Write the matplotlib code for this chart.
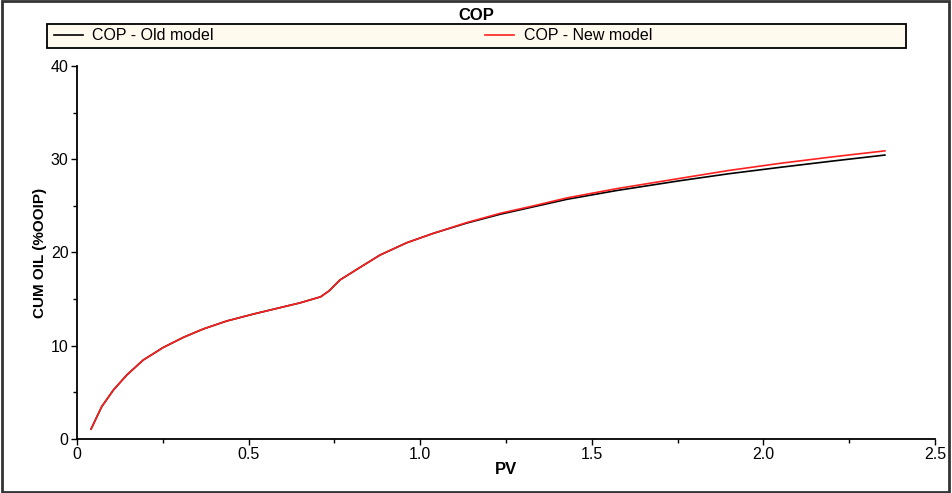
import matplotlib.pyplot as plt
import numpy as np
from matplotlib.patches import Rectangle
from matplotlib.ticker import MultipleLocator

plt.rcParams['font.family'] = ['Liberation Sans', 'DejaVu Sans']

# PV vs cumulative oil (%OOIP)
pv_new = [0.041, 0.072, 0.106, 0.145, 0.193, 0.252, 0.310, 0.368, 0.436, 0.514,
          0.582, 0.650, 0.710, 0.735, 0.766, 0.825, 0.883, 0.961, 1.038, 1.135,
          1.233, 1.330, 1.427, 1.573, 1.757, 1.900, 2.048, 2.200, 2.354]
cop_new = [1.07, 3.47, 5.25, 6.86, 8.47, 9.83, 10.9, 11.8, 12.65, 13.4,
           14.0, 14.6, 15.25, 15.9, 17.05, 18.41, 19.73, 21.05, 22.05, 23.2,
           24.2, 25.0, 25.85, 26.85, 27.95, 28.8, 29.56, 30.25, 30.9]

pv_old = pv_new
cop_old = [1.07, 3.47, 5.25, 6.86, 8.47, 9.83, 10.9, 11.8, 12.65, 13.4,
           14.0, 14.6, 15.25, 15.9, 17.05, 18.41, 19.73, 21.05, 22.05, 23.15,
           24.1, 24.9, 25.7, 26.65, 27.7, 28.45, 29.13, 29.8, 30.45]

fig = plt.figure(figsize=(9.52, 4.93), dpi=100)
ax = fig.add_axes([77/952, 1-439/493, (935-77)/952, (439-66)/493])

ax.plot(pv_old, cop_old, color='black', lw=1.2, label='COP - Old model')
ax.plot(pv_new, cop_new, color='#ff2020', lw=1.2, label='COP - New model')

ax.set_xlim(0, 2.5)
ax.set_ylim(0, 40)
ax.xaxis.set_minor_locator(MultipleLocator(0.25))
ax.yaxis.set_major_locator(MultipleLocator(10))
ax.yaxis.set_minor_locator(MultipleLocator(5))
ax.set_xticks([0, 0.5, 1.0, 1.5, 2.0, 2.5])
ax.set_xticklabels(['0', '0.5', '1.0', '1.5', '2.0', '2.5'])
ax.tick_params(which='both', direction='out', labelsize=11.5, width=1, colors='black')
ax.tick_params(which='major', length=4, pad=2)
ax.tick_params(which='minor', length=3)
for s in ['top', 'right']:
    ax.spines[s].set_visible(False)
for s in ['left', 'bottom']:
    ax.spines[s].set_linewidth(1.3)

ax.set_xlabel('PV', fontsize=12, fontweight='bold', labelpad=0)
ax.set_ylabel('CUM OIL (%OOIP)', fontsize=11, fontweight='bold', labelpad=3)

fig.text(0.5, 1-15/493, 'COP', ha='center', va='center', fontsize=12, fontweight='bold')

# legend frame spans the plot width; entries placed like the original
fig.patches.append(Rectangle((47/952, 1-48/493), (906-47)/952, 24/493,
                             transform=fig.transFigure, facecolor='#fff9ee',
                             edgecolor='black', lw=1.3))
leg = fig.legend(loc='center left', ncol=2, bbox_to_anchor=(54/952, 1-36/493),
                 frameon=False, fontsize=11.5, handlelength=1.8,
                 borderaxespad=0, borderpad=0, handletextpad=0.6, columnspacing=17.0)

fig.patches.append(Rectangle((0.002, 0.003), 0.995, 0.994, transform=fig.transFigure,
                             fill=False, edgecolor='#333333', lw=2))

plt.savefig('out.png', dpi=100)
